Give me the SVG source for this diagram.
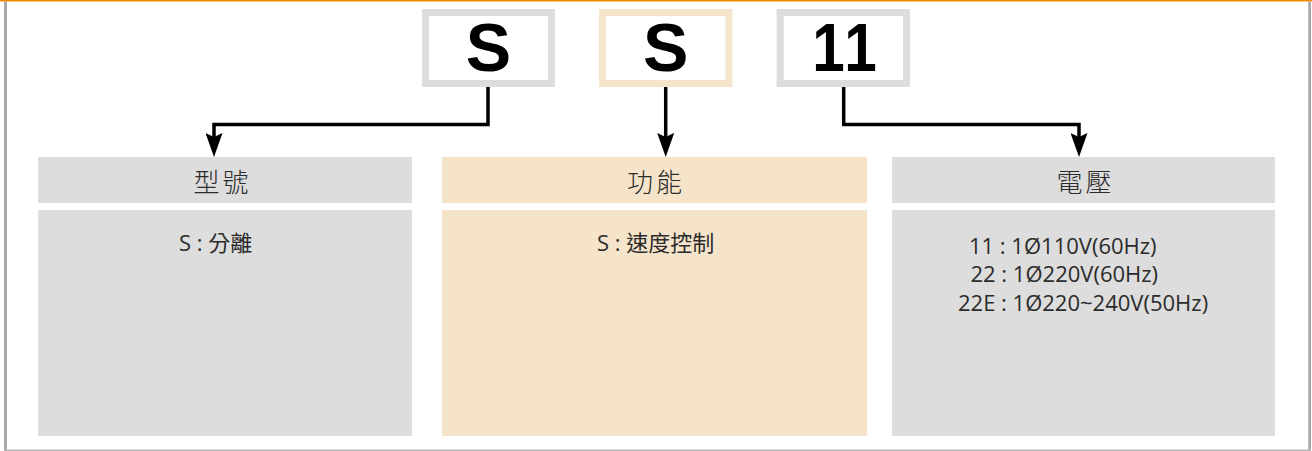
<svg xmlns="http://www.w3.org/2000/svg" width="1312" height="451" viewBox="0 0 1312 451">
<defs>
<style>
.code{font-family:"Liberation Sans",Arial,sans-serif;font-weight:bold;font-size:68px;fill:#000;text-anchor:middle}
.hd{font-family:"Noto Sans CJK TC","Noto Sans",sans-serif;font-size:26px;font-weight:300;fill:#2b2b2b;text-anchor:middle;letter-spacing:3px}
.bd{font-family:"Open Sans","Noto Sans CJK TC",sans-serif;font-size:22px;fill:#2b2b2b}
.gray{fill:#dcdddc}
.tan{fill:#f5e4ca}
.conn{fill:none;stroke:#000;stroke-width:3.5;stroke-linejoin:miter}
</style>
<marker id="arr" viewBox="0 0 24 17" markerWidth="24" markerHeight="17" markerUnits="userSpaceOnUse" refX="4" refY="8.5" orient="auto">
<path d="M0,0 L24,8.5 L0,17 L4,8.5 Z" fill="#000"/>
</marker>
</defs>
<rect x="0" y="0" width="1312" height="451" fill="#fff"/>
<rect x="0" y="0" width="1312" height="1.5" fill="#f08a00"/>
<rect x="4" y="1.5" width="3" height="449.5" fill="#a8a8a8"/>
<rect x="1308.3" y="1.5" width="2.7" height="449.5" fill="#a8a8a8"/>
<rect x="4" y="449.6" width="1307" height="1.4" fill="#b4b4b4"/>

<g id="code-s1">
<rect x="425.5" y="12.5" width="126" height="71" fill="#fff" stroke="#dcdddc" stroke-width="7"/>
<text class="code" x="488.5" y="71">S</text>
</g>
<g id="code-s2">
<rect x="602.5" y="12.5" width="126.5" height="71" fill="#fff" stroke="#f5e5cc" stroke-width="7"/>
<text class="code" x="665.7" y="71">S</text>
</g>
<g id="code-11">
<rect x="780.2" y="12.5" width="126.3" height="71" fill="#fff" stroke="#dcdddc" stroke-width="7"/>
<text class="code" transform="translate(844.5,71) scale(0.86,1)" x="-18.5 18.5" y="0">11</text>
</g>

<g id="connectors">
<path class="conn" d="M488,87 V124.5 H214 V137" marker-end="url(#arr)"/>
<path class="conn" d="M665.7,87 V137" marker-end="url(#arr)"/>
<path class="conn" d="M843.7,87 V124.5 H1079 V137" marker-end="url(#arr)"/>
</g>

<g id="model">
<rect class="gray" x="38" y="157" width="374" height="46"/>
<text class="hd" x="222.5" y="191.5">型號</text>
<rect class="gray" x="38" y="210" width="374" height="226"/>
<text class="bd" x="179" y="251">S : 分離</text>
</g>
<g id="function">
<rect class="tan" x="442" y="157" width="425" height="46"/>
<text class="hd" x="656" y="191.5">功能</text>
<rect class="tan" x="442" y="210" width="425" height="226"/>
<text class="bd" x="597" y="251">S : 速度控制</text>
</g>
<g id="voltage">
<rect class="gray" x="892" y="157" width="383" height="46"/>
<text class="hd" x="1085.5" y="191.5">電壓</text>
<rect class="gray" x="892" y="210" width="383" height="226"/>
<text class="bd" x="969" y="254">11 : 1Ø110V(60Hz)</text>
<text class="bd" x="970.5" y="282">22 : 1Ø220V(60Hz)</text>
<text class="bd" x="958" y="310.5">22E : 1Ø220~240V(50Hz)</text>
</g>
</svg>
